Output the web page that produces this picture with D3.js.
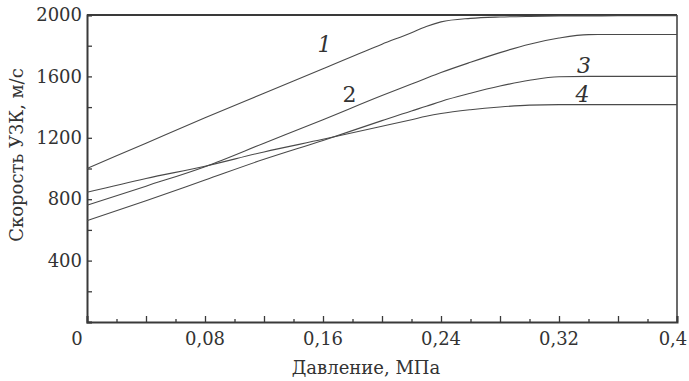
<!DOCTYPE html>
<html>
<head>
<meta charset="utf-8">
<script src="https://cdn.jsdelivr.net/npm/d3@7"></script>
<style>
  body { margin: 0; background: #fff; }
</style>
</head>
<body>
<svg id="chart" width="689" height="381"></svg>
<script>
// pressure, MPa
const pressure = [0, 0.04, 0.08, 0.12, 0.16, 0.2, 0.22, 0.23, 0.24, 0.26, 0.28, 0.3, 0.32, 0.34, 0.36, 0.4];
// ultrasonic velocity, m/s
const curve1 = [1000, 1165, 1330, 1490, 1650, 1810, 1885, 1925, 1955, 1978, 1987, 1991, 1993, 1994, 1995, 1995];
const curve2 = [760, 885, 1012, 1165, 1318, 1475, 1550, 1588, 1625, 1692, 1755, 1810, 1850, 1872, 1873, 1873];
const curve3 = [660, 790, 925, 1060, 1183, 1312, 1375, 1405, 1437, 1490, 1537, 1575, 1598, 1600, 1600, 1600];
const curve4 = [845, 935, 1015, 1108, 1190, 1275, 1318, 1340, 1358, 1383, 1401, 1413, 1416, 1416, 1416, 1416];
const curveLabels = ['1', '2', '3', '4'];
const labelPos = [[0.161, 1805], [0.178, 1479], [0.337, 1674], [0.336, 1479]];
const labelItalic = [true, false, true, true];
const xTickLabels = ['0', '0,08', '0,16', '0,24', '0,32', '0,4'];

const FONT = 'DejaVu Serif';
const margin = {left: 87, right: 12, top: 15, bottom: 59};
const W = 689, H = 381;
const svg = d3.select('#chart')
  .attr('font-family', FONT);

const x = d3.scaleLinear().domain([0, 0.4]).range([margin.left, W - margin.right]);
const y = d3.scaleLinear().domain([0, 2000]).range([H - margin.bottom, margin.top]);

const ink = '#3a3a3a';
const textInk = '#333';

// frame: top and right
svg.append('line')
  .attr('x1', x(0)).attr('x2', x(0.4)).attr('y1', y(2000)).attr('y2', y(2000))
  .attr('stroke', ink).attr('stroke-width', 2);
svg.append('line')
  .attr('x1', x(0.4)).attr('x2', x(0.4)).attr('y1', y(2000)).attr('y2', y(0))
  .attr('stroke', ink).attr('stroke-width', 1.5);

// x axis: major ticks every 0.04, minor in between
const xAxisG = svg.append('g').attr('transform', 'translate(0,' + y(0) + ')');
xAxisG.call(d3.axisBottom(x).tickValues(d3.range(0, 0.401, 0.04)).tickSize(-6).tickFormat(''));
xAxisG.append('g').call(d3.axisBottom(x).tickValues(d3.range(0.02, 0.4, 0.04)).tickSize(-3).tickFormat(''));
xAxisG.selectAll('path.domain').attr('stroke', ink).attr('stroke-width', 2);
xAxisG.selectAll('.tick line').attr('stroke', ink).attr('stroke-width', 1.3);
xAxisG.selectAll('g > g > path.domain').remove();

const xLabelVals = [0, 0.08, 0.16, 0.24, 0.32, 0.4];
svg.append('g').selectAll('text').data(xLabelVals).join('text')
  .attr('x', (d, i) => x(d) + (i === 0 ? -10 : (i === xLabelVals.length - 1 ? -4 : 0)))
  .attr('y', 345)
  .attr('text-anchor', 'middle')
  .attr('font-family', FONT)
  .attr('font-size', 18)
  .attr('fill', textInk)
  .text((d, i) => xTickLabels[i]);

// y axis
const yAxisG = svg.append('g').attr('transform', 'translate(' + x(0) + ',0)');
yAxisG.call(d3.axisLeft(y).tickValues(d3.range(0, 2001, 200)).tickSize(-5)
  .tickFormat(d => (d > 0 && d % 400 === 0) ? d : ''));
yAxisG.attr('font-family', FONT);
yAxisG.select('path.domain').attr('stroke', ink).attr('stroke-width', 2);
yAxisG.selectAll('.tick line').attr('stroke', ink).attr('stroke-width', 1.3);
yAxisG.selectAll('.tick text')
  .attr('x', -5).attr('font-size', 18).attr('font-family', FONT).attr('fill', textInk);

// curves
const series = [curve1, curve2, curve3, curve4];
const line = d3.line()
  .x(d => x(d[0]))
  .y(d => y(d[1]))
  .curve(d3.curveMonotoneX);

svg.append('g').selectAll('path').data(series).join('path')
  .attr('d', s => line(pressure.map((p, i) => [p, s[i]])))
  .attr('fill', 'none')
  .attr('stroke', '#4a4a4a')
  .attr('stroke-width', 1.1);

// curve numbers
svg.append('g').selectAll('text').data(curveLabels).join('text')
  .attr('x', (d, i) => x(labelPos[i][0]))
  .attr('y', (d, i) => y(labelPos[i][1]))
  .attr('text-anchor', 'middle')
  .attr('dominant-baseline', 'central')
  .attr('font-family', FONT)
  .attr('font-size', 22)
  .attr('fill', textInk)
  .attr('font-style', (d, i) => labelItalic[i] ? 'italic' : 'normal')
  .text(d => d);

// axis titles
svg.append('text')
  .attr('x', 366).attr('y', 374)
  .attr('text-anchor', 'middle')
  .attr('font-family', FONT)
  .attr('font-size', 18)
  .attr('fill', textInk)
  .text('Давление, МПа');

svg.append('text')
  .attr('transform', 'translate(23,155) rotate(-90)')
  .attr('text-anchor', 'middle')
  .attr('font-family', FONT)
  .attr('font-size', 18)
  .attr('fill', textInk)
  .text('Скорость УЗК, м/с');
</script>
</body>
</html>
